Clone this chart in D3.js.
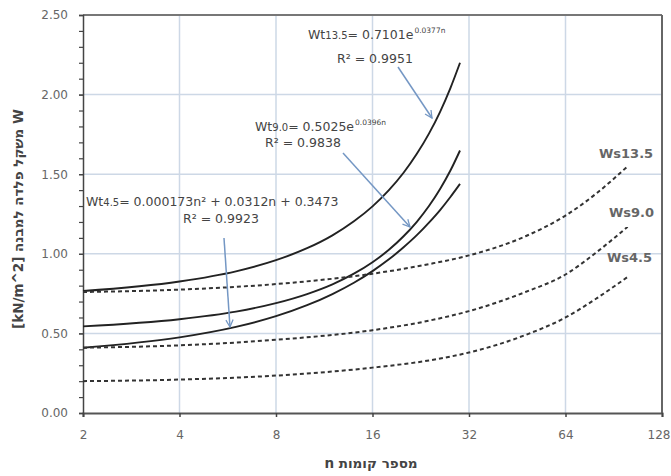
<!DOCTYPE html>
<html><head><meta charset="utf-8">
<script src="https://cdn.jsdelivr.net/npm/d3@7"></script>
<style>
body{margin:0;background:#fff;}
svg{display:block;font-family:"DejaVu Sans",sans-serif;}
</style></head>
<body><svg id="c" width="671" height="476"></svg>
<script>
// ---- data ----
const xTicks = [2,4,8,16,32,64,128];
const yTicks = [0,0.5,1.0,1.5,2.0,2.5];
const nT = [2,4,6,8,10,12,14,16,18,20,22,24,26,28,30];
const wt135 = [0.766,0.826,0.890,0.960,1.035,1.116,1.204,1.298,1.400,1.509,1.628,1.755,1.892,2.041,2.200];
const wt90  = [0.544,0.589,0.637,0.690,0.747,0.808,0.875,0.947,1.025,1.110,1.201,1.300,1.407,1.523,1.649];
const wt45  = [0.410,0.475,0.541,0.608,0.677,0.747,0.818,0.891,0.965,1.041,1.117,1.196,1.275,1.357,1.439];
const nS = [2,4,8,16,24,32,48,64,80,100];
const ws135 = [0.76,0.775,0.81,0.875,0.935,0.99,1.11,1.24,1.38,1.55];
const ws90  = [0.41,0.425,0.46,0.52,0.58,0.64,0.76,0.87,1.01,1.17];
const ws45  = [0.20,0.21,0.235,0.285,0.33,0.38,0.49,0.60,0.72,0.855];
const seriesNames = ["Ws13.5","Ws9.0","Ws4.5"];
const xTitle = "מספר קומות n";
const yTitle = "W משקל פלדה למבנה [kN/m^2]";

// ---- layout ----
const L=83, R=662, T=15, B=413;
const svg = d3.select("#c");
const x = d3.scaleLog().base(2).domain([2,128]).range([L,R]);
const y = d3.scaleLinear().domain([0,2.5]).range([B,T]);

// gridlines
const grid = svg.append("g").attr("stroke","#cdd8e6").attr("stroke-width",1.5);
grid.selectAll("line.v").data(xTicks.slice(1,-1)).join("line")
  .attr("x1",d=>x(d)).attr("x2",d=>x(d)).attr("y1",T).attr("y2",B);
grid.selectAll("line.h").data(yTicks.slice(1,-1)).join("line")
  .attr("x1",L).attr("x2",R).attr("y1",d=>y(d)).attr("y2",d=>y(d));

// frame (top & right)
svg.append("line").attr("x1",L).attr("x2",R).attr("y1",T).attr("y2",T).attr("stroke","#777").attr("stroke-width",2);
svg.append("line").attr("x1",R).attr("x2",R).attr("y1",T).attr("y2",B).attr("stroke","#666").attr("stroke-width",2);

// axes
const xAxis = svg.append("g").attr("transform",`translate(0,${B})`)
  .call(d3.axisBottom(x).tickValues(xTicks).tickFormat(d3.format("d")).tickSize(4).tickPadding(13));
xAxis.select(".domain").attr("stroke","#555").attr("stroke-width",2);
xAxis.selectAll(".tick line").attr("stroke","#444").attr("stroke-width",1.5);
xAxis.selectAll("text").attr("fill","#666").attr("font-size",12).attr("font-family","DejaVu Sans")
  .attr("dx",d=>d===128?-2:0).attr("text-anchor",d=>d===128?"end":"middle")
  .attr("x",d=>d===128?10:0);

const yMinor = d3.range(0,26).map(i=>i/10);
const yAxisMinor = svg.append("g").attr("transform",`translate(${L},0)`)
  .call(d3.axisLeft(y).tickValues(yMinor).tickFormat("").tickSize(4));
yAxisMinor.select(".domain").remove();
yAxisMinor.selectAll(".tick line").attr("stroke","#444").attr("stroke-width",1.2);
const yAxis = svg.append("g").attr("transform",`translate(${L},0)`)
  .call(d3.axisLeft(y).tickValues(yTicks).tickFormat(d3.format(".2f")).tickSize(4).tickPadding(11));
yAxis.select(".domain").attr("stroke","#444").attr("stroke-width",1.5);
yAxis.selectAll(".tick line").attr("stroke","#444").attr("stroke-width",1.2);
yAxis.selectAll("text").attr("fill","#666").attr("font-size",12).attr("font-family","DejaVu Sans");

// curves
const line = d3.line().x(d=>x(d[0])).y(d=>y(d[1])).curve(d3.curveMonotoneX);
[wt135,wt90,wt45].forEach(v=>{
  svg.append("path").datum(nT.map((n,i)=>[n,v[i]])).attr("d",line)
    .attr("fill","none").attr("stroke","#222").attr("stroke-width",1.9);
});
[ws135,ws90,ws45].forEach(v=>{
  svg.append("path").datum(nS.map((n,i)=>[n,v[i]])).attr("d",line)
    .attr("fill","none").attr("stroke","#333").attr("stroke-width",2).attr("stroke-dasharray","4,3");
});

// series labels
const lab = [[599,158],[609,217],[607,262]];
seriesNames.forEach((s,i)=>{
  svg.append("text").attr("x",lab[i][0]).attr("y",lab[i][1]).text(s)
    .attr("fill","#666").attr("font-size",13).attr("font-weight","bold");
});

// equations
function eq(x0,y0,sub,pre,sup){
  const t = svg.append("text").attr("x",x0).attr("y",y0).attr("fill","#444").attr("font-size",12.5);
  t.append("tspan").text("Wt");
  t.append("tspan").text(sub).attr("font-size",10);
  t.append("tspan").text(pre);
  if(sup){ t.append("tspan").text(sup).attr("font-size",7.5).attr("dy",-6).attr("dx",1); }
  return t;
}
function r2(x0,y0,s){
  svg.append("text").attr("x",x0).attr("y",y0).attr("fill","#444").attr("font-size",12.5).text(s);
}
eq(308,39,"13.5","= 0.7101e","0.0377n");
r2(337,63,"R² = 0.9951");
eq(255,131,"9.0","= 0.5025e","0.0396n");
r2(265,147,"R² = 0.9838");
eq(86,206,"4.5","= 0.000173n² + 0.0312n + 0.3473","");
r2(183,223,"R² = 0.9923");

// arrows
const defs = svg.append("defs");
defs.append("marker").attr("id","ah").attr("viewBox","0 0 10 10").attr("refX",9).attr("refY",5)
  .attr("markerWidth",9).attr("markerHeight",9).attr("orient","auto").attr("markerUnits","userSpaceOnUse")
  .append("path").attr("d","M1,1 L9,5 L1,9").attr("fill","none").attr("stroke","#7497c4").attr("stroke-width",1.4);
[[398,67,432,118],[343,153,410,227],[224,238,230,327]].forEach(a=>{
  svg.append("line").attr("x1",a[0]).attr("y1",a[1]).attr("x2",a[2]).attr("y2",a[3])
    .attr("stroke","#7497c4").attr("stroke-width",1.5).attr("marker-end","url(#ah)");
});

// titles
svg.append("text").attr("x",371).attr("y",468).attr("text-anchor","middle").attr("direction","rtl")
  .attr("fill","#444").attr("font-size",13.5).attr("font-weight","bold").text(xTitle);
svg.append("text").attr("transform","translate(23,219) rotate(-90)").attr("text-anchor","middle").attr("direction","rtl")
  .attr("fill","#444").attr("font-size",13.5).attr("font-weight","bold").text(yTitle);
</script></body></html>
